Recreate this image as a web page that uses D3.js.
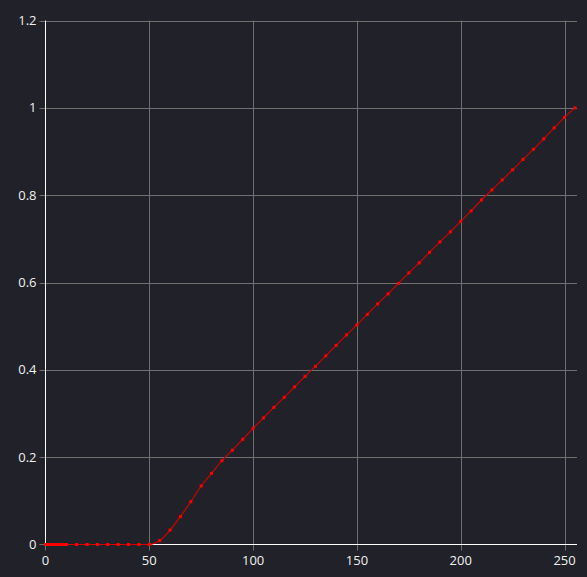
<!DOCTYPE html>
<html>
<head>
<meta charset="utf-8">
<script src="https://cdn.jsdelivr.net/npm/d3@7"></script>
<style>
  html, body { margin: 0; padding: 0; background: #202129; }
  svg { display: block; }
  .lbl { font-family: "Open Sans", sans-serif; font-size: 13px; fill: #f0f0f0; }
</style>
</head>
<body>
<svg width="587" height="577"></svg>
<script>
// valeurs
const xValues = [0, 1, 2, 3, 4, 5, 6, 7, 8, 9, 10,
  15, 20, 25, 30, 35, 40, 45, 50, 55, 60, 65, 70, 75, 80, 85, 90, 95,
  100, 105, 110, 115, 120, 125, 130, 135, 140, 145, 150, 155, 160, 165, 170, 175,
  180, 185, 190, 195, 200, 205, 210, 215, 220, 225, 230, 235, 240, 245, 250, 255];
const yValues = [0, 0, 0, 0, 0, 0, 0, 0, 0, 0, 0,
  0, 0, 0, 0, 0, 0, 0, 0, 0.009, 0.033, 0.064, 0.098, 0.134, 0.163, 0.192, 0.216, 0.241,
  0.266, 0.290, 0.314, 0.337, 0.361, 0.385, 0.408, 0.432, 0.456, 0.480, 0.503, 0.527, 0.551, 0.574, 0.598, 0.622,
  0.645, 0.669, 0.693, 0.716, 0.740, 0.764, 0.789, 0.812, 0.835, 0.858, 0.882, 0.905, 0.929, 0.954, 0.978, 1.0];
const xTicks = [0, 50, 100, 150, 200, 250];
const yTicks = [0, 0.2, 0.4, 0.6, 0.8, 1, 1.2];

const data = xValues.map((v, i) => ({ x: v, y: yValues[i] }));

/*----------- dimensions -----------*/
const plot = { left: 45.5, right: 577, top: 20.5, bottom: 544.5 };

const x = d3.scaleLinear().domain([0, 256]).range([plot.left, plot.right]);
const y = d3.scaleLinear().domain([0, 1.2]).range([plot.bottom, plot.top]);

const svg = d3.select("svg");
svg.append("rect").attr("width", 587).attr("height", 577).attr("fill", "#202129");

// grille
svg.append("g")
  .selectAll("line")
  .data(xTicks.filter((t) => t > 0))
  .join("line")
  .attr("x1", (d) => Math.round(x(d)) + 0.5)
  .attr("x2", (d) => Math.round(x(d)) + 0.5)
  .attr("y1", plot.top)
  .attr("y2", plot.bottom + 6)
  .attr("stroke", "#6f6f6f");

svg.append("g")
  .selectAll("line")
  .data(yTicks.filter((t) => t > 0))
  .join("line")
  .attr("x1", plot.left - 6)
  .attr("x2", plot.right)
  .attr("y1", (d) => Math.round(y(d)) + 0.5)
  .attr("y2", (d) => Math.round(y(d)) + 0.5)
  .attr("stroke", "#6f6f6f");

// petites graduations à 0
svg.append("line").attr("x1", plot.left - 6).attr("x2", plot.left).attr("y1", plot.bottom).attr("y2", plot.bottom).attr("stroke", "#6f6f6f");
svg.append("line").attr("x1", plot.left).attr("x2", plot.left).attr("y1", plot.bottom).attr("y2", plot.bottom + 6).attr("stroke", "#6f6f6f");

// axes blancs
svg.append("line").attr("x1", plot.left).attr("x2", plot.left).attr("y1", plot.top).attr("y2", plot.bottom).attr("stroke", "#ffffff");
svg.append("line").attr("x1", plot.left).attr("x2", plot.right).attr("y1", plot.bottom).attr("y2", plot.bottom).attr("stroke", "#ffffff");

// libellés
svg.append("g")
  .selectAll("text")
  .data(yTicks)
  .join("text")
  .attr("class", "lbl")
  .attr("x", plot.left - 9)
  .attr("y", (d) => y(d))
  .attr("dy", "0.35em")
  .attr("text-anchor", "end")
  .text((d) => d3.format("~g")(d));

svg.append("g")
  .selectAll("text")
  .data(xTicks)
  .join("text")
  .attr("class", "lbl")
  .attr("x", (d) => x(d))
  .attr("y", plot.bottom + 20)
  .attr("text-anchor", "middle")
  .text((d) => d);

// courbe
const line = d3.line()
  .x((d) => x(d.x))
  .y((d) => y(d.y))
  .curve(d3.curveMonotoneX);

svg.append("path")
  .datum(data)
  .attr("fill", "none")
  .attr("stroke", "#d40000")
  .attr("stroke-width", 1.2)
  .attr("d", line);

svg.append("g")
  .selectAll("rect")
  .data(data)
  .join("rect")
  .attr("x", (d) => x(d.x) - 1.5)
  .attr("y", (d) => y(d.y) - 1.5)
  .attr("width", 3)
  .attr("height", 3)
  .attr("fill", "#ff0000");
</script>
</body>
</html>
